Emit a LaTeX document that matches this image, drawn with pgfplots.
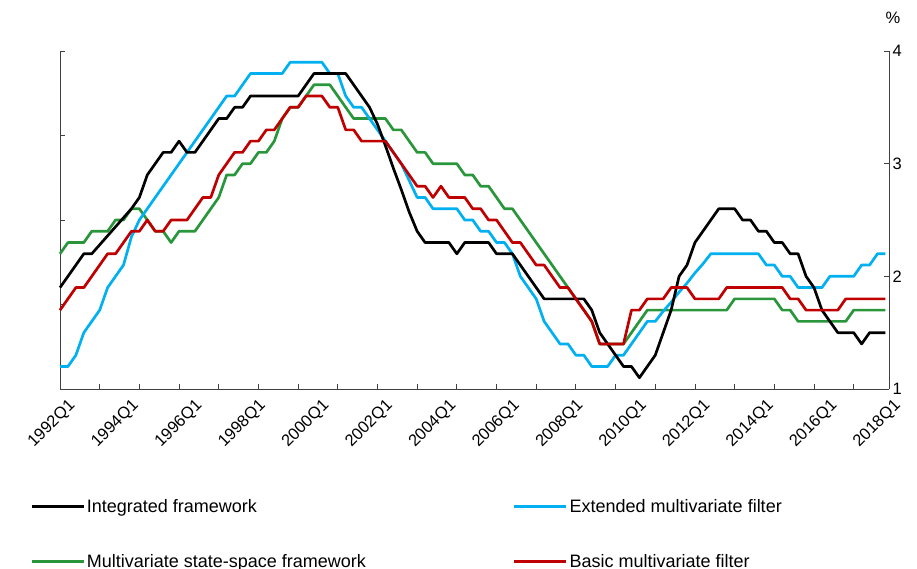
\documentclass[border=0pt]{standalone}
\usepackage{fontspec}
\setmainfont{Liberation Sans}
\usepackage{pgfplots}
\usepackage{pgfplotstable}
\pgfplotsset{compat=1.18}
\definecolor{cI}{RGB}{0,0,0}
\definecolor{cE}{RGB}{0,176,240}
\definecolor{cM}{RGB}{42,150,60}
\definecolor{cB}{RGB}{192,0,0}
\definecolor{axc}{RGB}{64,64,64}
\pgfplotstableread{
q I E M B
0 1.9 1.2 2.2 1.7
1 2.0 1.2 2.3 1.8
2 2.1 1.3 2.3 1.9
3 2.2 1.5 2.3 1.9
4 2.2 1.6 2.4 2.0
5 2.28 1.7 2.4 2.1
6 2.36 1.9 2.4 2.2
7 2.44 2.0 2.5 2.2
8 2.52 2.1 2.5 2.3
9 2.6 2.35 2.6 2.4
10 2.7 2.5 2.6 2.4
11 2.9 2.6 2.5 2.5
12 3.0 2.7 2.4 2.4
13 3.1 2.8 2.4 2.4
14 3.1 2.9 2.3 2.5
15 3.2 3.0 2.4 2.5
16 3.1 3.1 2.4 2.5
17 3.1 3.2 2.4 2.6
18 3.2 3.3 2.5 2.7
19 3.3 3.4 2.6 2.7
20 3.4 3.5 2.7 2.9
21 3.4 3.6 2.9 3.0
22 3.5 3.6 2.9 3.1
23 3.5 3.7 3.0 3.1
24 3.6 3.8 3.0 3.2
25 3.6 3.8 3.1 3.2
26 3.6 3.8 3.1 3.3
27 3.6 3.8 3.2 3.3
28 3.6 3.8 3.4 3.4
29 3.6 3.9 3.5 3.5
30 3.6 3.9 3.5 3.5
31 3.7 3.9 3.6 3.6
32 3.8 3.9 3.7 3.6
33 3.8 3.9 3.7 3.6
34 3.8 3.8 3.7 3.5
35 3.8 3.8 3.6 3.5
36 3.8 3.6 3.5 3.3
37 3.7 3.5 3.4 3.3
38 3.6 3.5 3.4 3.2
39 3.5 3.4 3.4 3.2
40 3.35 3.3 3.4 3.2
41 3.16 3.2 3.4 3.2
42 2.96 3.1 3.3 3.1
43 2.77 3.0 3.3 3.0
44 2.57 2.85 3.2 2.9
45 2.4 2.7 3.1 2.8
46 2.3 2.7 3.1 2.8
47 2.3 2.6 3.0 2.7
48 2.3 2.6 3.0 2.8
49 2.3 2.6 3.0 2.7
50 2.2 2.6 3.0 2.7
51 2.3 2.5 2.9 2.7
52 2.3 2.5 2.9 2.6
53 2.3 2.4 2.8 2.6
54 2.3 2.4 2.8 2.5
55 2.2 2.3 2.7 2.5
56 2.2 2.3 2.6 2.4
57 2.2 2.2 2.6 2.3
58 2.1 2.0 2.5 2.3
59 2.0 1.9 2.4 2.2
60 1.9 1.8 2.3 2.1
61 1.8 1.6 2.2 2.1
62 1.8 1.5 2.1 2.0
63 1.8 1.4 2.0 1.9
64 1.8 1.4 1.9 1.9
65 1.8 1.3 1.8 1.8
66 1.8 1.3 1.7 1.7
67 1.7 1.2 1.6 1.6
68 1.5 1.2 1.4 1.4
69 1.4 1.2 1.4 1.4
70 1.3 1.3 1.4 1.4
71 1.2 1.3 1.4 1.4
72 1.2 1.4 1.5 1.7
73 1.1 1.5 1.6 1.7
74 1.2 1.6 1.7 1.8
75 1.3 1.6 1.7 1.8
76 1.5 1.69 1.7 1.8
77 1.7 1.77 1.7 1.9
78 2.0 1.86 1.7 1.9
79 2.1 1.94 1.7 1.9
80 2.3 2.03 1.7 1.8
81 2.4 2.11 1.7 1.8
82 2.5 2.2 1.7 1.8
83 2.6 2.2 1.7 1.8
84 2.6 2.2 1.7 1.9
85 2.6 2.2 1.8 1.9
86 2.5 2.2 1.8 1.9
87 2.5 2.2 1.8 1.9
88 2.4 2.2 1.8 1.9
89 2.4 2.1 1.8 1.9
90 2.3 2.1 1.8 1.9
91 2.3 2.0 1.7 1.9
92 2.2 2.0 1.7 1.8
93 2.2 1.9 1.6 1.8
94 2.0 1.9 1.6 1.7
95 1.9 1.9 1.6 1.7
96 1.7 1.9 1.6 1.7
97 1.6 2.0 1.6 1.7
98 1.5 2.0 1.6 1.7
99 1.5 2.0 1.6 1.8
100 1.5 2.0 1.7 1.8
101 1.4 2.1 1.7 1.8
102 1.5 2.1 1.7 1.8
103 1.5 2.2 1.7 1.8
104 1.5 2.2 1.7 1.8
}\datatable
\begin{document}
\begin{tikzpicture}
\useasboundingbox (0,0) rectangle (917pt,569pt);
% left axis (unlabelled)
\begin{axis}[at={(60pt,180pt)}, anchor=south west, scale only axis,
  width=829pt, height=338pt, xmin=0, xmax=104.45, ymin=1, ymax=4,
  axis x line=none, axis y line*=left,
  ytick={1,1.75,2.5,3.25,4}, yticklabels={},
  tick align=inside, major tick length=5pt,
  axis line style={axc, line width=0.9pt}, tick style={axc, line width=0.9pt}]
\addplot[draw=none] coordinates {(0,1) (104,4)};
\end{axis}
% main axis
\begin{axis}[at={(60pt,180pt)}, anchor=south west, scale only axis,
  width=829pt, height=338pt, xmin=0, xmax=104.45, ymin=1, ymax=4,
  axis x line*=bottom, axis y line*=right,
  ytick={1,2,3,4},
  xtick={0,8,...,104},
  xticklabels={1992Q1,1994Q1,1996Q1,1998Q1,2000Q1,2002Q1,2004Q1,2006Q1,2008Q1,2010Q1,2012Q1,2014Q1,2016Q1,2018Q1},
  minor xtick={0,5,...,100},
  every major x tick/.append style={draw opacity=0},
  minor tick length=5pt,
  xticklabel style={rotate=45, anchor=east, inner sep=0pt, yshift=-19pt, xshift=-1pt},
  tick align=inside, major tick length=5pt,
  axis line style={axc, line width=0.9pt}, tick style={axc, line width=0.9pt},
  ticklabel style={font=\fontsize{16.5}{18}\selectfont},
  /pgf/number format/assume math mode=true,
  clip=false,
  legend columns=2,
  legend cell align=left,
  legend image code/.code={\draw[#1] (0pt,0pt) -- (52pt,0pt);},
  legend style={at={(rel axis cs:-0.0362,-0.319)}, anchor=north west, draw=none, fill=none,
    font=\fontsize{18}{20}\selectfont, inner sep=0pt,
    /tikz/every even column/.append style={column sep=145pt},
    /tikz/row sep=37pt},
  every axis plot/.append style={line width=2.7pt, line join=round}]
\addlegendimage{cI, line width=2.7pt}
\addlegendentry{Integrated framework}
\addlegendimage{cE, line width=2.7pt}
\addlegendentry{Extended multivariate filter}
\addlegendimage{cM, line width=2.7pt}
\addlegendentry{Multivariate state-space framework}
\addlegendimage{cB, line width=2.7pt}
\addlegendentry{Basic multivariate filter}
\addplot[cM, forget plot] table[x=q, y=M] {\datatable};
\addplot[cE, forget plot] table[x=q, y=E] {\datatable};
\addplot[cI, forget plot] table[x=q, y=I] {\datatable};
\addplot[cB, forget plot] table[x=q, y=B] {\datatable};
\node[font=\fontsize{16.5}{18}\selectfont] at (rel axis cs:1,1) [xshift=4pt, yshift=33pt] {\%};
\end{axis}
\end{tikzpicture}
\end{document}
